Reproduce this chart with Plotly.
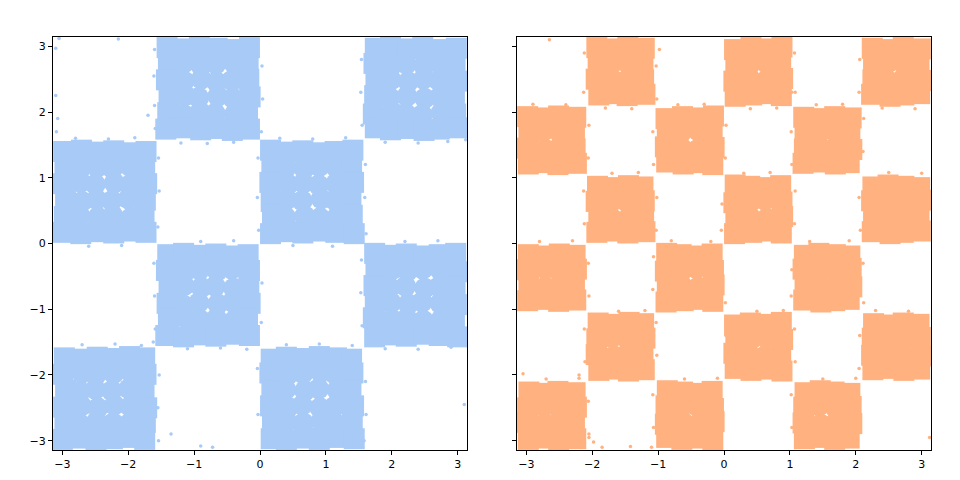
import plotly.graph_objects as go
from plotly.subplots import make_subplots

# Hand-estimated positions covering the filled areas of the picture.
# The original has thousands of tiny dots; these stand in for them as a sparser set.

# left panel, one line per row of points
blue_x = [
    -1.41,-1.14,-0.92,-0.65,-0.42,-0.16, 1.75,1.98,2.24,2.47,2.74,2.98,
    -1.39,-1.16,-0.90,-0.67,-0.40,-0.18, 1.73,2.00,2.22,2.49,2.72,2.96,
    -1.42,-1.15,-0.89,-0.66,-0.43,-0.17, 1.76,1.99,2.25,2.48,2.71,2.99,
    -1.38,-1.13,-0.93,-0.64,-0.41,-0.15, 1.74,1.97,2.23,2.50,2.73,2.95,
    -1.40,-1.17,-0.91,-0.68,-0.39,-0.19, 1.72,2.01,2.21,2.46,2.75,2.97,
    -1.43,-1.15,-0.90,-0.65,-0.42,-0.16, 1.75,1.98,2.24,2.49,2.72,3.00,
    -2.98,-2.71,-2.49,-2.22,-1.99,-1.73, 0.16,0.42,0.65,0.92,1.14,1.41,
    -2.96,-2.73,-2.47,-2.24,-1.97,-1.75, 0.18,0.40,0.67,0.90,1.16,1.39,
    -2.99,-2.72,-2.50,-2.21,-1.98,-1.72, 0.15,0.43,0.66,0.89,1.15,1.42,
    -2.95,-2.70,-2.48,-2.25,-2.00,-1.74, 0.17,0.41,0.64,0.93,1.13,1.38,
    -2.97,-2.74,-2.46,-2.23,-1.96,-1.76, 0.19,0.39,0.68,0.91,1.17,1.40,
    -3.00,-2.72,-2.49,-2.22,-1.99,-1.73, 0.16,0.42,0.65,0.90,1.15,1.43,
    -1.40,-1.16,-0.90,-0.67,-0.41,-0.18, 1.74,1.98,2.22,2.49,2.72,2.97,
    -1.42,-1.14,-0.92,-0.65,-0.43,-0.16, 1.76,2.00,2.24,2.47,2.74,2.99,
    -1.38,-1.15,-0.89,-0.68,-0.40,-0.17, 1.73,1.97,2.21,2.50,2.71,2.96,
    -1.41,-1.17,-0.93,-0.64,-0.42,-0.15, 1.75,1.99,2.25,2.46,2.73,2.98,
    -1.39,-1.13,-0.91,-0.66,-0.39,-0.19, 1.72,2.01,2.23,2.48,2.75,2.95,
    -1.43,-1.16,-0.90,-0.67,-0.41,-0.16, 1.74,1.98,2.22,2.49,2.72,3.00,
    -2.97,-2.72,-2.47,-2.24,-1.98,-1.75, 0.17,0.40,0.67,0.90,1.16,1.39,
    -2.99,-2.70,-2.49,-2.22,-1.96,-1.73, 0.15,0.42,0.65,0.92,1.14,1.41,
    -2.95,-2.73,-2.50,-2.25,-1.99,-1.76, 0.18,0.39,0.68,0.89,1.17,1.38,
    -2.98,-2.71,-2.46,-2.21,-1.97,-1.72, 0.16,0.43,0.64,0.91,1.13,1.42,
    -2.96,-2.74,-2.48,-2.23,-2.00,-1.74, 0.19,0.41,0.66,0.93,1.15,1.40,
    -3.00,-2.72,-2.49,-2.24,-1.98,-1.75, 0.17,0.40,0.67,0.90,1.16,1.43,
]
blue_y = [
    2.98,2.96,2.99,2.97,2.95,2.98, 2.97,2.99,2.96,2.98,2.95,2.97,
    2.72,2.74,2.71,2.73,2.75,2.72, 2.74,2.71,2.73,2.70,2.74,2.72,
    2.49,2.47,2.50,2.46,2.48,2.50, 2.47,2.49,2.46,2.50,2.48,2.47,
    2.23,2.25,2.22,2.24,2.21,2.23, 2.25,2.22,2.24,2.21,2.23,2.25,
    1.99,1.97,2.00,1.98,1.96,1.99, 1.97,2.00,1.98,1.96,1.99,1.97,
    1.74,1.76,1.73,1.75,1.72,1.74, 1.76,1.73,1.75,1.72,1.74,1.76,
    1.40,1.42,1.39,1.41,1.38,1.40, 1.42,1.39,1.41,1.38,1.40,1.42,
    1.15,1.13,1.16,1.14,1.17,1.15, 1.13,1.16,1.14,1.17,1.15,1.13,
    0.91,0.93,0.90,0.92,0.89,0.91, 0.93,0.90,0.92,0.89,0.91,0.93,
    0.66,0.64,0.67,0.65,0.68,0.66, 0.64,0.67,0.65,0.68,0.66,0.64,
    0.41,0.43,0.40,0.42,0.39,0.41, 0.43,0.40,0.42,0.39,0.41,0.43,
    0.17,0.15,0.18,0.16,0.19,0.17, 0.15,0.18,0.16,0.19,0.17,0.15,
    -0.17,-0.15,-0.18,-0.16,-0.19,-0.17, -0.15,-0.18,-0.16,-0.19,-0.17,-0.15,
    -0.41,-0.43,-0.40,-0.42,-0.39,-0.41, -0.43,-0.40,-0.42,-0.39,-0.41,-0.43,
    -0.66,-0.64,-0.67,-0.65,-0.68,-0.66, -0.64,-0.67,-0.65,-0.68,-0.66,-0.64,
    -0.91,-0.93,-0.90,-0.92,-0.89,-0.91, -0.93,-0.90,-0.92,-0.89,-0.91,-0.93,
    -1.15,-1.13,-1.16,-1.14,-1.17,-1.15, -1.13,-1.16,-1.14,-1.17,-1.15,-1.13,
    -1.40,-1.42,-1.39,-1.41,-1.38,-1.40, -1.42,-1.39,-1.41,-1.38,-1.40,-1.42,
    -1.74,-1.76,-1.73,-1.75,-1.72,-1.74, -1.76,-1.73,-1.75,-1.72,-1.74,-1.76,
    -1.99,-1.97,-2.00,-1.98,-1.96,-1.99, -1.97,-2.00,-1.98,-1.96,-1.99,-1.97,
    -2.23,-2.25,-2.22,-2.24,-2.21,-2.23, -2.25,-2.22,-2.24,-2.21,-2.23,-2.25,
    -2.49,-2.47,-2.50,-2.46,-2.48,-2.50, -2.47,-2.49,-2.46,-2.50,-2.48,-2.47,
    -2.72,-2.74,-2.71,-2.73,-2.75,-2.72, -2.74,-2.71,-2.73,-2.70,-2.74,-2.72,
    -2.98,-2.96,-2.99,-2.97,-2.95,-2.98, -2.97,-2.99,-2.96,-2.98,-2.95,-2.97,
]

# right panel, one line per row of points
orange_x = [
    -1.93,-1.68,-1.46,-1.21, 0.16,0.41,0.63,0.88, 2.25,2.51,2.72,2.98,
    -1.91,-1.70,-1.44,-1.23, 0.18,0.39,0.65,0.86, 2.27,2.49,2.74,2.96,
    -1.94,-1.67,-1.45,-1.22, 0.15,0.40,0.64,0.89, 2.26,2.50,2.71,2.99,
    -1.90,-1.69,-1.47,-1.20, 0.17,0.42,0.62,0.87, 2.24,2.52,2.73,2.97,
    -2.98,-2.72,-2.51,-2.25, -0.88,-0.63,-0.41,-0.16, 1.21,1.46,1.68,1.93,
    -2.96,-2.74,-2.49,-2.27, -0.86,-0.65,-0.39,-0.18, 1.23,1.44,1.70,1.91,
    -2.99,-2.71,-2.50,-2.26, -0.89,-0.64,-0.40,-0.15, 1.22,1.45,1.67,1.94,
    -2.97,-2.73,-2.52,-2.24, -0.87,-0.62,-0.42,-0.17, 1.20,1.47,1.69,1.90,
    -1.92,-1.69,-1.45,-1.23, 0.17,0.39,0.64,0.86, 2.26,2.49,2.73,2.97,
    -1.94,-1.67,-1.47,-1.21, 0.15,0.41,0.62,0.88, 2.24,2.51,2.71,2.99,
    -1.90,-1.70,-1.44,-1.22, 0.18,0.40,0.65,0.89, 2.27,2.50,2.74,2.96,
    -1.93,-1.68,-1.46,-1.20, 0.16,0.42,0.63,0.87, 2.25,2.52,2.72,2.98,
    -2.97,-2.74,-2.50,-2.26, -0.87,-0.65,-0.40,-0.18, 1.22,1.44,1.69,1.91,
    -2.99,-2.72,-2.52,-2.24, -0.89,-0.63,-0.42,-0.16, 1.20,1.46,1.67,1.93,
    -2.96,-2.71,-2.49,-2.27, -0.86,-0.64,-0.39,-0.15, 1.23,1.45,1.70,1.94,
    -2.98,-2.73,-2.51,-2.25, -0.88,-0.62,-0.41,-0.17, 1.21,1.47,1.68,1.90,
    -1.91,-1.68,-1.44,-1.22, 0.16,0.40,0.65,0.87, 2.27,2.50,2.72,2.96,
    -1.93,-1.70,-1.46,-1.20, 0.18,0.42,0.63,0.89, 2.25,2.52,2.74,2.98,
    -1.94,-1.67,-1.47,-1.23, 0.15,0.39,0.62,0.86, 2.24,2.49,2.71,2.99,
    -1.90,-1.69,-1.45,-1.21, 0.17,0.41,0.64,0.88, 2.26,2.51,2.73,2.97,
    -2.96,-2.72,-2.52,-2.26, -0.86,-0.63,-0.42,-0.18, 1.23,1.46,1.67,1.91,
    -2.98,-2.74,-2.50,-2.24, -0.88,-0.65,-0.40,-0.16, 1.21,1.44,1.69,1.93,
    -2.99,-2.71,-2.49,-2.27, -0.89,-0.62,-0.39,-0.15, 1.20,1.47,1.70,1.94,
    -2.97,-2.73,-2.51,-2.25, -0.87,-0.64,-0.41,-0.17, 1.22,1.45,1.68,1.90,
]
orange_y = [
    2.98,2.96,2.99,2.97, 2.95,2.98,2.96,2.99, 2.97,2.95,2.98,2.96,
    2.72,2.74,2.71,2.73, 2.75,2.72,2.74,2.71, 2.73,2.75,2.72,2.74,
    2.50,2.48,2.51,2.49, 2.47,2.50,2.48,2.51, 2.49,2.47,2.50,2.48,
    2.26,2.28,2.25,2.27, 2.24,2.26,2.28,2.25, 2.27,2.24,2.26,2.28,
    1.93,1.91,1.94,1.92, 1.90,1.93,1.91,1.94, 1.92,1.90,1.93,1.91,
    1.69,1.71,1.68,1.70, 1.67,1.69,1.71,1.68, 1.70,1.67,1.69,1.71,
    1.45,1.43,1.46,1.44, 1.47,1.45,1.43,1.46, 1.44,1.47,1.45,1.43,
    1.21,1.23,1.20,1.22, 1.24,1.21,1.23,1.20, 1.22,1.24,1.21,1.23,
    0.87,0.85,0.88,0.86, 0.89,0.87,0.85,0.88, 0.86,0.89,0.87,0.85,
    0.64,0.66,0.63,0.65, 0.62,0.64,0.66,0.63, 0.65,0.62,0.64,0.66,
    0.40,0.38,0.41,0.39, 0.42,0.40,0.38,0.41, 0.39,0.42,0.40,0.38,
    0.17,0.19,0.16,0.18, 0.15,0.17,0.19,0.16, 0.18,0.15,0.17,0.19,
    -0.17,-0.19,-0.16,-0.18, -0.15,-0.17,-0.19,-0.16, -0.18,-0.15,-0.17,-0.19,
    -0.40,-0.38,-0.41,-0.39, -0.42,-0.40,-0.38,-0.41, -0.39,-0.42,-0.40,-0.38,
    -0.64,-0.66,-0.63,-0.65, -0.62,-0.64,-0.66,-0.63, -0.65,-0.62,-0.64,-0.66,
    -0.87,-0.85,-0.88,-0.86, -0.89,-0.87,-0.85,-0.88, -0.86,-0.89,-0.87,-0.85,
    -1.21,-1.23,-1.20,-1.22, -1.24,-1.21,-1.23,-1.20, -1.22,-1.24,-1.21,-1.23,
    -1.45,-1.43,-1.46,-1.44, -1.47,-1.45,-1.43,-1.46, -1.44,-1.47,-1.45,-1.43,
    -1.69,-1.71,-1.68,-1.70, -1.67,-1.69,-1.71,-1.68, -1.70,-1.67,-1.69,-1.71,
    -1.93,-1.91,-1.94,-1.92, -1.90,-1.93,-1.91,-1.94, -1.92,-1.90,-1.93,-1.91,
    -2.26,-2.28,-2.25,-2.27, -2.24,-2.26,-2.28,-2.25, -2.27,-2.24,-2.26,-2.28,
    -2.50,-2.48,-2.51,-2.49, -2.47,-2.50,-2.48,-2.51, -2.49,-2.47,-2.50,-2.48,
    -2.72,-2.74,-2.71,-2.73, -2.75,-2.72,-2.74,-2.71, -2.73,-2.75,-2.72,-2.74,
    -2.98,-2.96,-2.99,-2.97, -2.95,-2.98,-2.96,-2.99, -2.97,-2.95,-2.98,-2.96,
]

# small dots: strays and the fuzz along the edges of the squares
blue_stray_x = [-2.15,-3.10,-3.10,-3.07,-3.09,-3.05,-1.70,-1.35,-0.72,-0.90,-1.62,3.10,3.12,
    -1.60,-1.61,-1.60,-1.59,-1.20,-0.80,-0.40,0.03,0.04,0.02,
    1.54,1.53,1.55,1.90,2.40,2.85,
    -2.8,-2.3,-1.9,-1.54,-1.53,-1.55,-2.6,-2.1,
    -0.03,-0.04,-0.02,0.3,0.8,1.3,1.60,1.59,1.61,0.5,1.1,
    -1.61,-1.60,-1.59,-1.1,-0.6,-0.2,0.03,0.02,-0.9,-0.4,
    1.54,1.53,1.55,1.9,2.4,2.9,2.2,2.7,
    -2.7,-2.2,-1.8,-1.53,-1.55,-1.54,
    -0.04,-0.03,0.4,0.9,1.4,1.60,1.61,1.58]
blue_stray_y = [3.11,2.97,2.25,1.90,1.70,3.12,1.95,-2.90,-3.10,-3.08,-1.50,-2.45,1.58,
    2.95,2.55,2.10,1.75,1.53,1.52,1.54,2.70,2.20,1.70,
    2.80,2.30,1.80,1.54,1.53,1.55,
    1.60,1.59,1.61,1.30,0.80,0.25,-0.04,-0.03,
    1.30,0.70,0.20,1.60,1.59,1.61,1.20,0.70,0.15,-0.03,-0.04,
    -0.30,-0.80,-1.30,-1.60,-1.59,-1.61,-0.60,-1.20,0.03,0.04,
    -0.25,-0.75,-1.25,-1.60,-1.61,-1.58,0.03,0.04,
    -1.54,-1.53,-1.55,-2.00,-2.50,-3.00,
    -1.90,-2.60,-1.54,-1.53,-1.55,-2.10,-2.60,-3.00]
orange_stray_x = [-3.05,-2.05,-1.98,-1.85,-1.42,-1.10,-2.20,-0.98,2.05,3.12,-2.65,1.03,
    -2.12,-2.13,-1.80,-1.40,-1.03,-1.02,0.03,0.04,0.40,0.80,1.07,1.08,2.06,2.05,2.40,2.90,
    -2.90,-2.40,-2.05,-2.06,-1.08,-1.07,-0.70,-0.30,0.03,0.02,1.02,1.03,1.40,1.80,2.12,2.11,
    -2.13,-2.12,-1.70,-1.30,-1.02,-1.03,-0.03,-0.04,0.30,0.70,1.08,1.07,2.05,2.07,2.50,3.00,
    -2.80,-2.30,-2.06,-2.05,-1.07,-1.08,-0.80,-0.20,-0.03,0.02,1.03,1.02,1.30,1.90,2.11,2.12,
    -2.12,-2.11,-1.60,-1.20,-1.03,-1.02,0.03,0.04,0.50,0.90,1.07,1.08,2.06,2.05,2.30,2.80,
    -2.70,-2.20,-2.06,-2.05,-1.08,-1.07,-0.60,-0.10,1.02,1.03,1.50,2.00]
orange_stray_y = [-1.98,-2.95,-3.02,-3.10,-3.09,-3.10,-2.00,2.95,-0.40,-2.95,3.10,2.30,
    2.90,2.30,2.06,2.05,2.70,2.20,2.60,2.20,2.05,2.06,2.90,2.30,2.80,2.30,2.06,2.05,
    2.12,2.11,1.80,1.30,1.70,1.20,2.11,2.12,1.80,1.30,1.70,1.20,2.11,2.12,1.90,1.40,
    0.80,0.30,1.07,1.08,0.70,0.20,0.60,0.20,1.07,1.08,0.80,0.30,0.70,0.20,1.08,1.07,
    0.03,0.04,-0.30,-0.80,-0.20,-0.70,0.04,0.03,-0.50,-0.90,-0.40,-0.80,0.03,0.04,-0.30,-0.90,
    -1.30,-1.80,-1.03,-1.02,-1.20,-1.70,-1.40,-1.90,-1.03,-1.02,-1.30,-1.80,-1.40,-1.90,-1.02,-1.03,
    -2.06,-2.05,-2.40,-2.90,-2.30,-2.80,-2.06,-2.05,-2.30,-2.80,-2.06,-2.05]

tick_vals = [-3, -2, -1, 0, 1, 2, 3]
axis_limit = [-3.1416, 3.1416]
blue = "#a8caf6"
orange = "#ffb280"


# Outer ring of each square gets square symbols so the edges run straight;
# inside, circles leave small white specks between them.
def ring_symbols(count, per_cell):
    symbols = []
    for i in range(count):
        r = (i // 12) % per_cell
        c = (i % 12) % per_cell
        on_ring = r in (0, per_cell - 1) or c in (0, per_cell - 1)
        symbols.append("square" if on_ring else "circle")
    return symbols


fig = make_subplots(rows=1, cols=2, shared_yaxes=True)

fig.add_trace(go.Scatter(x=blue_x, y=blue_y, mode="markers",
                         marker=dict(color=blue, size=21,
                                     symbol=ring_symbols(len(blue_x), 6))), row=1, col=1)
fig.add_trace(go.Scatter(x=blue_stray_x, y=blue_stray_y, mode="markers",
                         marker=dict(color=blue, size=3.5)), row=1, col=1)
fig.add_trace(go.Scatter(x=orange_x, y=orange_y, mode="markers",
                         marker=dict(color=orange, size=21,
                                     symbol=ring_symbols(len(orange_x), 4))), row=1, col=2)
fig.add_trace(go.Scatter(x=orange_stray_x, y=orange_stray_y, mode="markers",
                         marker=dict(color=orange, size=3.5)), row=1, col=2)

axis_style = dict(range=axis_limit, tickvals=tick_vals, ticks="outside", ticklen=4,
                  tickwidth=1, tickcolor="black", showgrid=False, zeroline=False,
                  showline=True, linecolor="black", linewidth=1, mirror=True,
                  layer="above traces", tickfont=dict(family="DejaVu Sans", size=11, color="black"))
fig.update_xaxes(**axis_style)
fig.update_yaxes(**axis_style)

# the page body adds an 8px margin, so the domains are shifted to make up for it
fig.update_layout(
    width=960, height=480, showlegend=False,
    paper_bgcolor="white", plot_bgcolor="white",
    margin=dict(l=0, r=0, t=0, b=0),
    xaxis=dict(domain=[45 / 960, 459 / 960]),
    xaxis2=dict(domain=[509 / 960, 923 / 960]),
    yaxis=dict(domain=[1 - 442 / 480, 1 - 29 / 480]),
    yaxis2=dict(domain=[1 - 442 / 480, 1 - 29 / 480], showticklabels=False),
)

fig.write_html("out.html")
